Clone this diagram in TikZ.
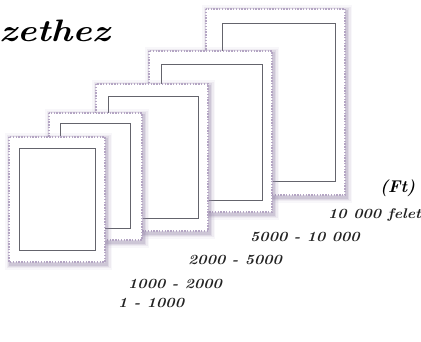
\documentclass[tikz,border=0pt]{standalone}
\usepackage{fontspec}
\begin{document}
\begin{tikzpicture}[x=1pt,y=-1pt]
\definecolor{shad}{RGB}{150,135,170}
\definecolor{perfc}{RGB}{180,165,195}
\definecolor{framec}{RGB}{100,100,108}
\definecolor{numc}{RGB}{35,35,35}
\tikzset{
  perfline/.style={draw=perfc, line width=2.4pt, dash pattern=on 1.4pt off 1.4pt},
  framebox/.style={draw=framec, line width=0.8pt},
  numtext/.style={anchor=base west, inner sep=0pt, text=numc, font=\fontsize{14}{14}\selectfont\bfseries\itshape, xscale=1.12},
  scripttext/.style={anchor=base west, inner sep=0pt, text=black, font=\fontsize{31}{31}\selectfont\bfseries\itshape, xscale=1.18}
}
\newcommand\stampshape[8]{%
  \foreach \w/\o in {11/0.06,8/0.10,5/0.16,2.5/0.24}{%
    \draw[shad, line width=\w pt, opacity=\o] (#1+1.5,#2+2) rectangle (#3+1.5,#4+2.5);}
  \fill[white] (#1,#2) rectangle (#3,#4);
  \draw[perfline] (#1,#2) rectangle (#3,#4);
  \fill[white] (#1+2,#2+2) rectangle (#3-2,#4-2);
  \draw[framebox] (#5,#6) rectangle (#7,#8);
}
\useasboundingbox (0,0) rectangle (421,342);
\clip (0,0) rectangle (421,342);
\fill[white] (0,0) rectangle (421,342);
% stamps, back to front
\stampshape{206}{9}{345}{195}{222}{23}{335}{181}
\stampshape{149}{51}{272}{212}{161}{64}{262}{200}
\stampshape{96}{84}{208}{231}{108}{96}{198}{218}
\stampshape{49}{113}{142}{240}{60}{123}{130}{228}
\stampshape{9}{137}{105}{262}{19}{148}{95}{250}
% texts
\node[scripttext] (title) at (-1,42) {zethez};
\node[anchor=base west, inner sep=0pt, text=black, font=\fontsize{17}{17}\selectfont\bfseries\itshape] (unit) at (380,193) {(Ft)};
\node[numtext] (r5) at (328,219) {10 000 felett};
\node[numtext] (r4) at (250,242) {5000 - 10 000};
\node[numtext] (r3) at (188,265) {2000 - 5000};
\node[numtext] (r2) at (128,289) {1000 - 2000};
\node[numtext] (r1) at (118,308) {1 - 1000};
\end{tikzpicture}
\end{document}
